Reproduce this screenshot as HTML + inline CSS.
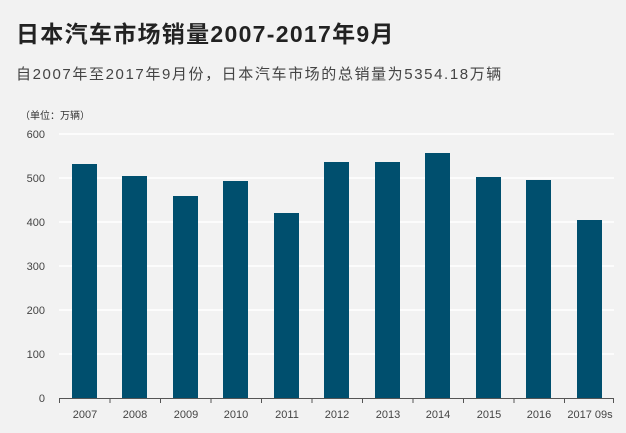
<!DOCTYPE html>
<html><head><meta charset="utf-8"><style>
body{margin:0;background:#f2f2f2;width:626px;height:433px;overflow:hidden;font-family:"Liberation Sans","Noto Sans CJK SC",sans-serif}
</style></head><body>
<svg width="626" height="433" xmlns="http://www.w3.org/2000/svg" style="position:absolute;left:0;top:0">
<rect width="626" height="433" fill="#f2f2f2"/>
<text x="16" y="42" font-size="23" letter-spacing="1.3" font-weight="bold" fill="#222" font-family="Liberation Sans, Noto Sans CJK SC, sans-serif">日本汽车市场销量2007-2017年9月</text>
<text x="16" y="79" font-size="15" letter-spacing="1.6" fill="#444" font-family="Liberation Sans, Noto Sans CJK SC, sans-serif">自2007年至2017年9月份，日本汽车市场的总销量为5354.18万辆</text>
<text x="20" y="119" font-size="10" fill="#333" font-family="Liberation Sans, Noto Sans CJK SC, sans-serif">（单位：万辆）</text>
<g stroke="#ffffff" stroke-width="1.5">
<line x1="59" x2="614" y1="134" y2="134"/><line x1="59" x2="614" y1="178" y2="178"/><line x1="59" x2="614" y1="222" y2="222"/><line x1="59" x2="614" y1="266" y2="266"/><line x1="59" x2="614" y1="310" y2="310"/><line x1="59" x2="614" y1="354" y2="354"/>
</g>
<g font-size="11" fill="#444" text-anchor="end" font-family="Liberation Sans, sans-serif">
<text x="45" y="138">600</text><text x="45" y="182">500</text><text x="45" y="226">400</text><text x="45" y="270">300</text><text x="45" y="314">200</text><text x="45" y="358">100</text><text x="45" y="402">0</text>
</g>
<g fill="#004f6e">
<rect x="72" y="164" width="25" height="234"/>
<rect x="122" y="176" width="25" height="222"/>
<rect x="173" y="196" width="25" height="202"/>
<rect x="223" y="181" width="25" height="217"/>
<rect x="274" y="213" width="25" height="185"/>
<rect x="324" y="162" width="25" height="236"/>
<rect x="375" y="162" width="25" height="236"/>
<rect x="425" y="153" width="25" height="245"/>
<rect x="476" y="177" width="25" height="221"/>
<rect x="526" y="180" width="25" height="218"/>
<rect x="577" y="220" width="25" height="178"/>
</g>
<line x1="59" x2="614" y1="398.5" y2="398.5" stroke="#555" stroke-width="1"/>
<g stroke="#555">
<line x1="59.5" x2="59.5" y1="398" y2="403"/><line x1="110" x2="110" y1="398" y2="403"/><line x1="160.5" x2="160.5" y1="398" y2="403"/><line x1="211" x2="211" y1="398" y2="403"/><line x1="261.5" x2="261.5" y1="398" y2="403"/><line x1="312" x2="312" y1="398" y2="403"/><line x1="362.5" x2="362.5" y1="398" y2="403"/><line x1="413" x2="413" y1="398" y2="403"/><line x1="463.5" x2="463.5" y1="398" y2="403"/><line x1="514" x2="514" y1="398" y2="403"/><line x1="564.5" x2="564.5" y1="398" y2="403"/><line x1="613.5" x2="613.5" y1="398" y2="403"/>
</g>
<g font-size="11" fill="#444" text-anchor="middle" font-family="Liberation Sans, sans-serif">
<text x="85" y="418">2007</text><text x="135" y="418">2008</text><text x="186" y="418">2009</text><text x="236" y="418">2010</text><text x="287" y="418">2011</text><text x="337" y="418">2012</text><text x="388" y="418">2013</text><text x="438" y="418">2014</text><text x="489" y="418">2015</text><text x="539" y="418">2016</text><text x="590" y="418">2017 09s</text>
</g>
</svg>
</body></html>
